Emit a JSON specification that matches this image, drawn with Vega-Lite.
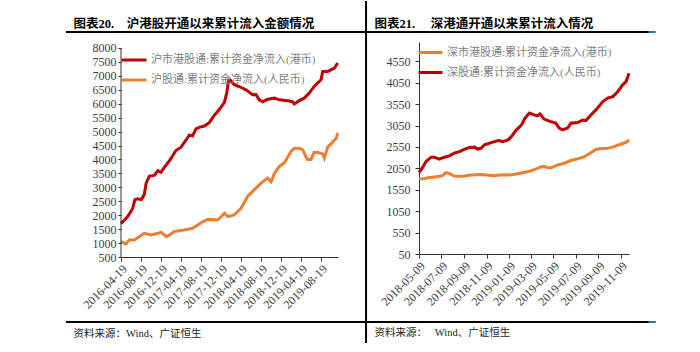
{
  "$schema": "https://vega.github.io/schema/vega-lite/v6.json",
  "autosize": {"type": "pad"},
  "padding": {"left": 64, "top": 0, "right": 0, "bottom": 0},
  "background": "white",
  "config": {"view": {"stroke": null}, "font": "Liberation Serif, Noto Sans CJK SC"},
  "bounds": "flush",
  "spacing": 81,
  "resolve": {"scale": {"x": "independent", "y": "independent", "color": "independent"}, "legend": {"color": "independent"}},
  "datasets": {
    "left": [
      {"date": "2016-04-19", "series": "沪市港股通:累计资金净流入(港币)", "value": 1700},
      {"date": "2016-05-09", "series": "沪市港股通:累计资金净流入(港币)", "value": 1820},
      {"date": "2016-05-29", "series": "沪市港股通:累计资金净流入(港币)", "value": 1950},
      {"date": "2016-06-15", "series": "沪市港股通:累计资金净流入(港币)", "value": 2100},
      {"date": "2016-06-29", "series": "沪市港股通:累计资金净流入(港币)", "value": 2250},
      {"date": "2016-07-13", "series": "沪市港股通:累计资金净流入(港币)", "value": 2560},
      {"date": "2016-07-29", "series": "沪市港股通:累计资金净流入(港币)", "value": 2590},
      {"date": "2016-08-19", "series": "沪市港股通:累计资金净流入(港币)", "value": 2560},
      {"date": "2016-08-29", "series": "沪市港股通:累计资金净流入(港币)", "value": 2640},
      {"date": "2016-09-08", "series": "沪市港股通:累计资金净流入(港币)", "value": 2750},
      {"date": "2016-09-19", "series": "沪市港股通:累计资金净流入(港币)", "value": 3150},
      {"date": "2016-10-09", "series": "沪市港股通:累计资金净流入(港币)", "value": 3400},
      {"date": "2016-10-29", "series": "沪市港股通:累计资金净流入(港币)", "value": 3420},
      {"date": "2016-11-08", "series": "沪市港股通:累计资金净流入(港币)", "value": 3430},
      {"date": "2016-11-29", "series": "沪市港股通:累计资金净流入(港币)", "value": 3600},
      {"date": "2016-12-19", "series": "沪市港股通:累计资金净流入(港币)", "value": 3540},
      {"date": "2017-01-08", "series": "沪市港股通:累计资金净流入(港币)", "value": 3720},
      {"date": "2017-02-08", "series": "沪市港股通:累计资金净流入(港币)", "value": 3960},
      {"date": "2017-02-28", "series": "沪市港股通:累计资金净流入(港币)", "value": 4140},
      {"date": "2017-03-19", "series": "沪市港股通:累计资金净流入(港币)", "value": 4320},
      {"date": "2017-04-19", "series": "沪市港股通:累计资金净流入(港币)", "value": 4440},
      {"date": "2017-05-19", "series": "沪市港股通:累计资金净流入(港币)", "value": 4690},
      {"date": "2017-06-08", "series": "沪市港股通:累计资金净流入(港币)", "value": 4870},
      {"date": "2017-06-29", "series": "沪市港股通:累计资金净流入(港币)", "value": 4850},
      {"date": "2017-07-19", "series": "沪市港股通:累计资金净流入(港币)", "value": 5100},
      {"date": "2017-08-08", "series": "沪市港股通:累计资金净流入(港币)", "value": 5150},
      {"date": "2017-09-08", "series": "沪市港股通:累计资金净流入(港币)", "value": 5200},
      {"date": "2017-10-08", "series": "沪市港股通:累计资金净流入(港币)", "value": 5320},
      {"date": "2017-11-08", "series": "沪市港股通:累计资金净流入(港币)", "value": 5590},
      {"date": "2017-12-08", "series": "沪市港股通:累计资金净流入(港币)", "value": 5790},
      {"date": "2018-01-08", "series": "沪市港股通:累计资金净流入(港币)", "value": 6050},
      {"date": "2018-01-23", "series": "沪市港股通:累计资金净流入(港币)", "value": 6410},
      {"date": "2018-02-02", "series": "沪市港股通:累计资金净流入(港币)", "value": 6850},
      {"date": "2018-02-12", "series": "沪市港股通:累计资金净流入(港币)", "value": 6850},
      {"date": "2018-03-09", "series": "沪市港股通:累计资金净流入(港币)", "value": 6680},
      {"date": "2018-04-19", "series": "沪市港股通:累计资金净流入(港币)", "value": 6590},
      {"date": "2018-05-19", "series": "沪市港股通:累计资金净流入(港币)", "value": 6500},
      {"date": "2018-06-29", "series": "沪市港股通:累计资金净流入(港币)", "value": 6320},
      {"date": "2018-07-19", "series": "沪市港股通:累计资金净流入(港币)", "value": 6330},
      {"date": "2018-08-08", "series": "沪市港股通:累计资金净流入(港币)", "value": 6140},
      {"date": "2018-08-29", "series": "沪市港股通:累计资金净流入(港币)", "value": 6070},
      {"date": "2018-09-29", "series": "沪市港股通:累计资金净流入(港币)", "value": 6160},
      {"date": "2018-11-08", "series": "沪市港股通:累计资金净流入(港币)", "value": 6200},
      {"date": "2018-12-08", "series": "沪市港股通:累计资金净流入(港币)", "value": 6140},
      {"date": "2019-01-29", "series": "沪市港股通:累计资金净流入(港币)", "value": 6110},
      {"date": "2019-02-28", "series": "沪市港股通:累计资金净流入(港币)", "value": 6070},
      {"date": "2019-03-09", "series": "沪市港股通:累计资金净流入(港币)", "value": 5990},
      {"date": "2019-04-08", "series": "沪市港股通:累计资金净流入(港币)", "value": 6110},
      {"date": "2019-05-08", "series": "沪市港股通:累计资金净流入(港币)", "value": 6200},
      {"date": "2019-06-08", "series": "沪市港股通:累计资金净流入(港币)", "value": 6380},
      {"date": "2019-07-08", "series": "沪市港股通:累计资金净流入(港币)", "value": 6620},
      {"date": "2019-08-19", "series": "沪市港股通:累计资金净流入(港币)", "value": 6860},
      {"date": "2019-08-29", "series": "沪市港股通:累计资金净流入(港币)", "value": 7160},
      {"date": "2019-09-29", "series": "沪市港股通:累计资金净流入(港币)", "value": 7160},
      {"date": "2019-11-08", "series": "沪市港股通:累计资金净流入(港币)", "value": 7280},
      {"date": "2019-11-28", "series": "沪市港股通:累计资金净流入(港币)", "value": 7460},
      {"date": "2016-04-19", "series": "沪股通:累计资金净流入(人民币)", "value": 1050},
      {"date": "2016-05-19", "series": "沪股通:累计资金净流入(人民币)", "value": 970},
      {"date": "2016-06-08", "series": "沪股通:累计资金净流入(人民币)", "value": 1110},
      {"date": "2016-07-09", "series": "沪股通:累计资金净流入(人民币)", "value": 1110},
      {"date": "2016-08-08", "series": "沪股通:累计资金净流入(人民币)", "value": 1230},
      {"date": "2016-09-08", "series": "沪股通:累计资金净流入(人民币)", "value": 1350},
      {"date": "2016-10-19", "series": "沪股通:累计资金净流入(人民币)", "value": 1290},
      {"date": "2016-11-29", "series": "沪股通:累计资金净流入(人民币)", "value": 1350},
      {"date": "2016-12-19", "series": "沪股通:累计资金净流入(人民币)", "value": 1390},
      {"date": "2017-01-19", "series": "沪股通:累计资金净流入(人民币)", "value": 1230},
      {"date": "2017-02-08", "series": "沪股通:累计资金净流入(人民币)", "value": 1290},
      {"date": "2017-03-08", "series": "沪股通:累计资金净流入(人民币)", "value": 1410},
      {"date": "2017-05-08", "series": "沪股通:累计资金净流入(人民币)", "value": 1470},
      {"date": "2017-06-29", "series": "沪股通:累计资金净流入(人民币)", "value": 1530},
      {"date": "2017-08-19", "series": "沪股通:累计资金净流入(人民币)", "value": 1730},
      {"date": "2017-09-29", "series": "沪股通:累计资金净流入(人民币)", "value": 1850},
      {"date": "2017-11-29", "series": "沪股通:累计资金净流入(人民币)", "value": 1830},
      {"date": "2018-01-08", "series": "沪股通:累计资金净流入(人民币)", "value": 2070},
      {"date": "2018-01-29", "series": "沪股通:累计资金净流入(人民币)", "value": 1950},
      {"date": "2018-03-09", "series": "沪股通:累计资金净流入(人民币)", "value": 2010},
      {"date": "2018-04-19", "series": "沪股通:累计资金净流入(人民币)", "value": 2250},
      {"date": "2018-05-29", "series": "沪股通:累计资金净流入(人民币)", "value": 2670},
      {"date": "2018-07-08", "series": "沪股通:累计资金净流入(人民币)", "value": 2910},
      {"date": "2018-08-19", "series": "沪股通:累计资金净流入(人民币)", "value": 3150},
      {"date": "2018-09-29", "series": "沪股通:累计资金净流入(人民币)", "value": 3330},
      {"date": "2018-10-19", "series": "沪股通:累计资金净流入(人民币)", "value": 3200},
      {"date": "2018-11-08", "series": "沪股通:累计资金净流入(人民币)", "value": 3500},
      {"date": "2018-12-08", "series": "沪股通:累计资金净流入(人民币)", "value": 3750},
      {"date": "2019-01-08", "series": "沪股通:累计资金净流入(人民币)", "value": 3880},
      {"date": "2019-01-29", "series": "沪股通:累计资金净流入(人民币)", "value": 4100},
      {"date": "2019-02-19", "series": "沪股通:累计资金净流入(人民币)", "value": 4300},
      {"date": "2019-03-09", "series": "沪股通:累计资金净流入(人民币)", "value": 4400},
      {"date": "2019-04-08", "series": "沪股通:累计资金净流入(人民币)", "value": 4400},
      {"date": "2019-04-29", "series": "沪股通:累计资金净流入(人民币)", "value": 4350},
      {"date": "2019-05-19", "series": "沪股通:累计资金净流入(人民币)", "value": 4100},
      {"date": "2019-05-29", "series": "沪股通:累计资金净流入(人民币)", "value": 4000},
      {"date": "2019-06-19", "series": "沪股通:累计资金净流入(人民币)", "value": 4000},
      {"date": "2019-07-08", "series": "沪股通:累计资金净流入(人民币)", "value": 4260},
      {"date": "2019-08-01", "series": "沪股通:累计资金净流入(人民币)", "value": 4250},
      {"date": "2019-08-29", "series": "沪股通:累计资金净流入(人民币)", "value": 4200},
      {"date": "2019-09-08", "series": "沪股通:累计资金净流入(人民币)", "value": 4050},
      {"date": "2019-09-29", "series": "沪股通:累计资金净流入(人民币)", "value": 4450},
      {"date": "2019-10-19", "series": "沪股通:累计资金净流入(人民币)", "value": 4560},
      {"date": "2019-11-08", "series": "沪股通:累计资金净流入(人民币)", "value": 4700},
      {"date": "2019-11-19", "series": "沪股通:累计资金净流入(人民币)", "value": 4760},
      {"date": "2019-11-28", "series": "沪股通:累计资金净流入(人民币)", "value": 4950}
    ],
    "right": [
      {"date": "2018-05-09", "series": "深市港股通:累计资金净流入(港币)", "value": 1810},
      {"date": "2018-05-20", "series": "深市港股通:累计资金净流入(港币)", "value": 1800},
      {"date": "2018-06-02", "series": "深市港股通:累计资金净流入(港币)", "value": 1830},
      {"date": "2018-06-15", "series": "深市港股通:累计资金净流入(港币)", "value": 1840},
      {"date": "2018-06-29", "series": "深市港股通:累计资金净流入(港币)", "value": 1860},
      {"date": "2018-07-12", "series": "深市港股通:累计资金净流入(港币)", "value": 1880},
      {"date": "2018-07-21", "series": "深市港股通:累计资金净流入(港币)", "value": 1950},
      {"date": "2018-07-30", "series": "深市港股通:累计资金净流入(港币)", "value": 1930},
      {"date": "2018-08-13", "series": "深市港股通:累计资金净流入(港币)", "value": 1870},
      {"date": "2018-08-27", "series": "深市港股通:累计资金净流入(港币)", "value": 1865},
      {"date": "2018-09-10", "series": "深市港股通:累计资金净流入(港币)", "value": 1870},
      {"date": "2018-09-28", "series": "深市港股通:累计资金净流入(港币)", "value": 1895},
      {"date": "2018-10-25", "series": "深市港股通:累计资金净流入(港币)", "value": 1905},
      {"date": "2018-11-15", "series": "深市港股通:累计资金净流入(港币)", "value": 1890},
      {"date": "2018-11-30", "series": "深市港股通:累计资金净流入(港币)", "value": 1880},
      {"date": "2018-12-14", "series": "深市港股通:累计资金净流入(港币)", "value": 1895},
      {"date": "2018-12-28", "series": "深市港股通:累计资金净流入(港币)", "value": 1900},
      {"date": "2019-01-10", "series": "深市港股通:累计资金净流入(港币)", "value": 1895},
      {"date": "2019-01-24", "series": "深市港股通:累计资金净流入(港币)", "value": 1910},
      {"date": "2019-02-08", "series": "深市港股通:累计资金净流入(港币)", "value": 1935},
      {"date": "2019-02-21", "series": "深市港股通:累计资金净流入(港币)", "value": 1960},
      {"date": "2019-03-05", "series": "深市港股通:累计资金净流入(港币)", "value": 1980},
      {"date": "2019-03-18", "series": "深市港股通:累计资金净流入(港币)", "value": 2020},
      {"date": "2019-03-27", "series": "深市港股通:累计资金净流入(港币)", "value": 2050},
      {"date": "2019-04-06", "series": "深市港股通:累计资金净流入(港币)", "value": 2085},
      {"date": "2019-04-14", "series": "深市港股通:累计资金净流入(港币)", "value": 2092},
      {"date": "2019-04-24", "series": "深市港股通:累计资金净流入(港币)", "value": 2070},
      {"date": "2019-05-02", "series": "深市港股通:累计资金净流入(港币)", "value": 2060},
      {"date": "2019-05-20", "series": "深市港股通:累计资金净流入(港币)", "value": 2125},
      {"date": "2019-06-08", "series": "深市港股通:累计资金净流入(港币)", "value": 2170},
      {"date": "2019-06-26", "series": "深市港股通:累计资金净流入(港币)", "value": 2232},
      {"date": "2019-07-14", "series": "深市港股通:累计资金净流入(港币)", "value": 2272},
      {"date": "2019-08-02", "series": "深市港股通:累计资金净流入(港币)", "value": 2325},
      {"date": "2019-08-20", "series": "深市港股通:累计资金净流入(港币)", "value": 2419},
      {"date": "2019-09-02", "series": "深市港股通:累计资金净流入(港币)", "value": 2490},
      {"date": "2019-09-16", "series": "深市港股通:累计资金净流入(港币)", "value": 2515},
      {"date": "2019-10-04", "series": "深市港股通:累计资金净流入(港币)", "value": 2520},
      {"date": "2019-10-18", "series": "深市港股通:累计资金净流入(港币)", "value": 2545},
      {"date": "2019-10-31", "series": "深市港股通:累计资金净流入(港币)", "value": 2590},
      {"date": "2019-11-14", "series": "深市港股通:累计资金净流入(港币)", "value": 2630},
      {"date": "2019-11-24", "series": "深市港股通:累计资金净流入(港币)", "value": 2660},
      {"date": "2019-12-01", "series": "深市港股通:累计资金净流入(港币)", "value": 2715},
      {"date": "2018-05-09", "series": "深股通:累计资金净流入(人民币)", "value": 1950},
      {"date": "2018-05-19", "series": "深股通:累计资金净流入(人民币)", "value": 2070},
      {"date": "2018-05-28", "series": "深股通:累计资金净流入(人民币)", "value": 2210},
      {"date": "2018-06-11", "series": "深股通:累计资金净流入(人民币)", "value": 2310},
      {"date": "2018-06-20", "series": "深股通:累计资金净流入(人民币)", "value": 2310},
      {"date": "2018-07-03", "series": "深股通:累计资金净流入(人民币)", "value": 2265},
      {"date": "2018-07-17", "series": "深股通:累计资金净流入(人民币)", "value": 2310},
      {"date": "2018-07-30", "series": "深股通:累计资金净流入(人民币)", "value": 2340},
      {"date": "2018-08-13", "series": "深股通:累计资金净流入(人民币)", "value": 2405},
      {"date": "2018-08-27", "series": "深股通:累计资金净流入(人民币)", "value": 2440},
      {"date": "2018-09-10", "series": "深股通:累计资金净流入(人民币)", "value": 2500},
      {"date": "2018-09-24", "series": "深股通:累计资金净流入(人民币)", "value": 2535},
      {"date": "2018-10-07", "series": "深股通:累计资金净流入(人民币)", "value": 2545},
      {"date": "2018-10-16", "series": "深股通:累计资金净流入(人民币)", "value": 2500},
      {"date": "2018-10-25", "series": "深股通:累计资金净流入(人民币)", "value": 2520},
      {"date": "2018-11-03", "series": "深股通:累计资金净流入(人民币)", "value": 2600},
      {"date": "2018-11-17", "series": "深股通:累计资金净流入(人民币)", "value": 2640},
      {"date": "2018-11-30", "series": "深股通:累计资金净流入(人民币)", "value": 2675},
      {"date": "2018-12-11", "series": "深股通:累计资金净流入(人民币)", "value": 2700},
      {"date": "2018-12-23", "series": "深股通:累计资金净流入(人民币)", "value": 2675},
      {"date": "2019-01-06", "series": "深股通:累计资金净流入(人民币)", "value": 2715},
      {"date": "2019-01-15", "series": "深股通:累计资金净流入(人民币)", "value": 2790},
      {"date": "2019-01-29", "series": "深股通:累计资金净流入(人民币)", "value": 2950},
      {"date": "2019-02-12", "series": "深股通:累计资金净流入(人民币)", "value": 3065},
      {"date": "2019-02-21", "series": "深股通:累计资金净流入(人民币)", "value": 3220},
      {"date": "2019-03-05", "series": "深股通:累计资金净流入(人民币)", "value": 3340},
      {"date": "2019-03-18", "series": "深股通:累计资金净流入(人民币)", "value": 3300},
      {"date": "2019-03-27", "series": "深股通:累计资金净流入(人民币)", "value": 3275},
      {"date": "2019-04-03", "series": "深股通:累计资金净流入(人民币)", "value": 3320},
      {"date": "2019-04-14", "series": "深股通:累计资金净流入(人民币)", "value": 3200},
      {"date": "2019-05-02", "series": "深股通:累计资金净流入(人民币)", "value": 3140},
      {"date": "2019-05-16", "series": "深股通:累计资金净流入(人民币)", "value": 3105},
      {"date": "2019-05-25", "series": "深股通:累计资金净流入(人民币)", "value": 2990},
      {"date": "2019-06-03", "series": "深股通:累计资金净流入(人民币)", "value": 2950},
      {"date": "2019-06-17", "series": "深股通:累计资金净流入(人民币)", "value": 2990},
      {"date": "2019-06-26", "series": "深股通:累计资金净流入(人民币)", "value": 3105},
      {"date": "2019-07-14", "series": "深股通:累计资金净流入(人民币)", "value": 3120},
      {"date": "2019-07-28", "series": "深股通:累计资金净流入(人民币)", "value": 3180},
      {"date": "2019-08-06", "series": "深股通:累计资金净流入(人民币)", "value": 3165},
      {"date": "2019-08-20", "series": "深股通:累计资金净流入(人民币)", "value": 3300},
      {"date": "2019-09-02", "series": "深股通:累计资金净流入(人民币)", "value": 3415},
      {"date": "2019-09-21", "series": "深股通:累计资金净流入(人民币)", "value": 3610},
      {"date": "2019-10-04", "series": "深股通:累计资金净流入(人民币)", "value": 3690},
      {"date": "2019-10-18", "series": "深股通:累计资金净流入(人民币)", "value": 3725},
      {"date": "2019-10-31", "series": "深股通:累计资金净流入(人民币)", "value": 3840},
      {"date": "2019-11-14", "series": "深股通:累计资金净流入(人民币)", "value": 4000},
      {"date": "2019-11-23", "series": "深股通:累计资金净流入(人民币)", "value": 4075},
      {"date": "2019-12-01", "series": "深股通:累计资金净流入(人民币)", "value": 4270}
    ]
  },
  "hconcat": [
    {
      "width": 217,
      "height": 215,
      "resolve": {"scale": {"x": "independent", "y": "independent"}, "axis": {"x": "independent", "y": "independent"}},
      "layer": [
        {
          "data": {"name": "left"},
          "mark": {"type": "line", "strokeWidth": 3},
          "encoding": {
            "x": {
              "field": "date", "type": "temporal",
              "scale": {"type": "utc", "nice": false, "domain": [{"year": 2016, "month": 4, "date": 19, "utc": true}, {"year": 2019, "month": 11, "date": 30, "utc": true}]},
              "axis": {
                "values": [
                  {"year": 2016, "month": 4, "date": 19, "utc": true}, {"year": 2016, "month": 8, "date": 19, "utc": true}, {"year": 2016, "month": 12, "date": 19, "utc": true},
                  {"year": 2017, "month": 4, "date": 19, "utc": true}, {"year": 2017, "month": 8, "date": 19, "utc": true}, {"year": 2017, "month": 12, "date": 19, "utc": true},
                  {"year": 2018, "month": 4, "date": 19, "utc": true}, {"year": 2018, "month": 8, "date": 19, "utc": true}, {"year": 2018, "month": 12, "date": 19, "utc": true},
                  {"year": 2019, "month": 4, "date": 19, "utc": true}, {"year": 2019, "month": 8, "date": 19, "utc": true}
                ],
                "labelExpr": "utcFormat(datum.value, '%Y-%m-%d')",
                "labelAngle": -45, "labelFont": "Liberation Serif", "labelFontSize": 12, "labelColor": "#404040",
                "labelOverlap": false, "labelFlush": false, "labelBound": false, "labelPadding": 2,
                "tickSize": 4, "tickColor": "#333333", "domainColor": "#333333", "grid": false,
                "title": "资料来源：Wind、广证恒生", "titleX": -48, "titleY": 76, "titleAngle": 0, "titleAlign": "left", "titleBaseline": "middle",
                "titleFont": "Liberation Serif, Noto Sans CJK SC", "titleFontSize": 10.5, "titleFontWeight": "normal", "titleColor": "#222222", "titleLimit": 0
              }
            },
            "y": {
              "field": "value", "type": "quantitative",
              "scale": {"domain": [500, 8215], "nice": false, "zero": false},
              "axis": {
                "values": [500, 1000, 1500, 2000, 2500, 3000, 3500, 4000, 4500, 5000, 5500, 6000, 6500, 7000, 7500, 8000],
                "format": "d",
                "domain": false,
                "labelFont": "Liberation Serif", "labelFontSize": 12, "labelColor": "#404040", "labelPadding": 2,
                "tickSize": 3, "tickColor": "#333333", "grid": false,
                "title": "图表20.\u00a0\u00a0\u00a0\u00a0沪港股开通以来累计流入金额情况", "titleX": -48, "titleY": -19, "titleAngle": 0, "titleAlign": "left", "titleBaseline": "middle",
                "titleFont": "Liberation Serif, Noto Sans CJK SC", "titleFontSize": 12.5, "titleFontWeight": "bold", "titleColor": "#000000", "titleLimit": 0
              }
            },
            "color": {
              "field": "series", "type": "nominal",
              "scale": {"domain": ["沪市港股通:累计资金净流入(港币)", "沪股通:累计资金净流入(人民币)"], "range": ["#C00000", "#ED7D31"]},
              "legend": {
                "orient": "none", "legendX": -1, "legendY": 4, "title": null, "padding": 0,
                "symbolType": "stroke", "symbolSize": 625, "symbolStrokeWidth": 3, "rowPadding": -1, "labelOffset": 3,
                "labelFont": "Liberation Serif, Noto Sans CJK SC", "labelFontSize": 11, "labelColor": "#808080", "labelLimit": 0
              }
            }
          }
        },
        {
          "data": {"values": [{}]},
          "mark": {"type": "rule", "color": "#333333", "strokeWidth": 1},
          "encoding": {
            "x": {"datum": {"year": 2016, "month": 4, "date": 19, "utc": true}, "type": "temporal", "axis": null, "scale": {"type": "utc", "nice": false, "domain": [{"year": 2016, "month": 4, "date": 19, "utc": true}, {"year": 2019, "month": 11, "date": 30, "utc": true}]}},
            "y": {"datum": 500, "type": "quantitative", "axis": null, "scale": {"domain": [500, 8215], "nice": false, "zero": false}},
            "y2": {"datum": 8000}
          }
        },
        {
          "data": {"values": [{}]},
          "mark": {"type": "rule", "color": "#000000", "strokeWidth": 2},
          "encoding": {
            "x": {"datum": {"year": 2015, "month": 5, "date": 20, "utc": true}, "type": "temporal", "axis": null, "scale": {"type": "utc", "nice": false, "domain": [{"year": 2016, "month": 4, "date": 19, "utc": true}, {"year": 2019, "month": 11, "date": 30, "utc": true}]}},
            "x2": {"datum": {"year": 2020, "month": 2, "date": 18, "utc": true}},
            "y": {"datum": 8574, "type": "quantitative", "axis": null, "scale": {"domain": [500, 8215], "nice": false, "zero": false}}
          }
        },
        {
          "data": {"values": [{}]},
          "mark": {"type": "rule", "color": "#000000", "strokeWidth": 2},
          "encoding": {
            "x": {"datum": {"year": 2015, "month": 5, "date": 20, "utc": true}, "type": "temporal", "axis": null, "scale": {"type": "utc", "nice": false, "domain": [{"year": 2016, "month": 4, "date": 19, "utc": true}, {"year": 2019, "month": 11, "date": 30, "utc": true}]}},
            "x2": {"datum": {"year": 2020, "month": 2, "date": 18, "utc": true}},
            "y": {"datum": -1833, "type": "quantitative", "axis": null, "scale": {"domain": [500, 8215], "nice": false, "zero": false}}
          }
        }
      ]
    },
    {
      "width": 210,
      "height": 212,
      "resolve": {"scale": {"x": "independent", "y": "independent"}, "axis": {"x": "independent", "y": "independent"}},
      "layer": [
        {
          "data": {"name": "right"},
          "mark": {"type": "line", "strokeWidth": 3},
          "encoding": {
            "x": {
              "field": "date", "type": "temporal",
              "scale": {"type": "utc", "nice": false, "domain": [{"year": 2018, "month": 5, "date": 9, "utc": true}, {"year": 2019, "month": 12, "date": 1, "utc": true}]},
              "axis": {
                "values": [
                  {"year": 2018, "month": 5, "date": 9, "utc": true}, {"year": 2018, "month": 7, "date": 9, "utc": true}, {"year": 2018, "month": 9, "date": 9, "utc": true},
                  {"year": 2018, "month": 11, "date": 9, "utc": true}, {"year": 2019, "month": 1, "date": 9, "utc": true}, {"year": 2019, "month": 3, "date": 9, "utc": true},
                  {"year": 2019, "month": 5, "date": 9, "utc": true}, {"year": 2019, "month": 7, "date": 9, "utc": true}, {"year": 2019, "month": 9, "date": 9, "utc": true},
                  {"year": 2019, "month": 11, "date": 9, "utc": true}
                ],
                "labelExpr": "utcFormat(datum.value, '%Y-%m-%d')",
                "labelAngle": -45, "labelFont": "Liberation Serif", "labelFontSize": 12, "labelColor": "#404040",
                "labelOverlap": false, "labelFlush": false, "labelBound": false, "labelPadding": 2,
                "tickSize": 4, "tickColor": "#333333", "domainColor": "#333333", "grid": false,
                "title": "资料来源：\u00a0\u00a0\u00a0Wind、广证恒生", "titleX": -45, "titleY": 78, "titleAngle": 0, "titleAlign": "left", "titleBaseline": "middle",
                "titleFont": "Liberation Serif, Noto Sans CJK SC", "titleFontSize": 10.5, "titleFontWeight": "normal", "titleColor": "#222222", "titleLimit": 0
              }
            },
            "y": {
              "field": "value", "type": "quantitative",
              "scale": {"domain": [50, 5000], "nice": false, "zero": false},
              "axis": {
                "values": [50, 550, 1050, 1550, 2050, 2550, 3050, 3550, 4050, 4550],
                "format": "d",
                "labelFont": "Liberation Serif", "labelFontSize": 12, "labelColor": "#404040", "labelPadding": 5,
                "tickSize": 4, "tickColor": "#333333", "domainColor": "#333333", "grid": false,
                "title": "图表21.\u00a0\u00a0\u00a0\u00a0\u00a0深港通开通以来累计流入情况", "titleX": -45, "titleY": -19, "titleAngle": 0, "titleAlign": "left", "titleBaseline": "middle",
                "titleFont": "Liberation Serif, Noto Sans CJK SC", "titleFontSize": 12.5, "titleFontWeight": "bold", "titleColor": "#000000", "titleLimit": 0
              }
            },
            "color": {
              "field": "series", "type": "nominal",
              "scale": {"domain": ["深市港股通:累计资金净流入(港币)", "深股通:累计资金净流入(人民币)"], "range": ["#ED7D31", "#C00000"]},
              "legend": {
                "orient": "none", "legendX": -2, "legendY": -3, "title": null, "padding": 0,
                "symbolType": "stroke", "symbolSize": 576, "symbolStrokeWidth": 3, "rowPadding": -1, "labelOffset": 3,
                "labelFont": "Liberation Serif, Noto Sans CJK SC", "labelFontSize": 11, "labelColor": "#808080", "labelLimit": 0
              }
            }
          }
        },
        {
          "data": {"values": [{}]},
          "mark": {"type": "rule", "color": "#000000", "strokeWidth": 2},
          "encoding": {
            "x": {"datum": {"year": 2017, "month": 12, "date": 16, "utc": true}, "type": "temporal", "axis": null, "scale": {"type": "utc", "nice": false, "domain": [{"year": 2018, "month": 5, "date": 9, "utc": true}, {"year": 2019, "month": 12, "date": 1, "utc": true}]}},
            "y": {"datum": 5957, "type": "quantitative", "axis": null, "scale": {"domain": [50, 5000], "nice": false, "zero": false}},
            "y2": {"datum": -2028}
          }
        },
        {
          "data": {"values": [{}]},
          "mark": {"type": "rule", "color": "#000000", "strokeWidth": 2},
          "encoding": {
            "x": {"datum": {"year": 2017, "month": 11, "date": 5, "utc": true}, "type": "temporal", "axis": null, "scale": {"type": "utc", "nice": false, "domain": [{"year": 2018, "month": 5, "date": 9, "utc": true}, {"year": 2019, "month": 12, "date": 1, "utc": true}]}},
            "x2": {"datum": {"year": 2020, "month": 1, "date": 24, "utc": true}},
            "y": {"datum": 5234, "type": "quantitative", "axis": null, "scale": {"domain": [50, 5000], "nice": false, "zero": false}}
          }
        },
        {
          "data": {"values": [{}]},
          "mark": {"type": "rule", "color": "#000000", "strokeWidth": 2},
          "encoding": {
            "x": {"datum": {"year": 2017, "month": 11, "date": 5, "utc": true}, "type": "temporal", "axis": null, "scale": {"type": "utc", "nice": false, "domain": [{"year": 2018, "month": 5, "date": 9, "utc": true}, {"year": 2019, "month": 12, "date": 1, "utc": true}]}},
            "x2": {"datum": {"year": 2020, "month": 1, "date": 24, "utc": true}},
            "y": {"datum": -1538, "type": "quantitative", "axis": null, "scale": {"domain": [50, 5000], "nice": false, "zero": false}}
          }
        },
        {
          "data": {"values": [{}]},
          "mark": {"type": "rule", "color": "#2E75B6", "strokeWidth": 2},
          "encoding": {
            "x": {"datum": {"year": 2020, "month": 1, "date": 24, "utc": true}, "type": "temporal", "axis": null, "scale": {"type": "utc", "nice": false, "domain": [{"year": 2018, "month": 5, "date": 9, "utc": true}, {"year": 2019, "month": 12, "date": 1, "utc": true}]}},
            "x2": {"datum": {"year": 2020, "month": 2, "date": 12, "utc": true}},
            "y": {"datum": 5234, "type": "quantitative", "axis": null, "scale": {"domain": [50, 5000], "nice": false, "zero": false}}
          }
        },
        {
          "data": {"values": [{}]},
          "mark": {"type": "rule", "color": "#2E75B6", "strokeWidth": 2},
          "encoding": {
            "x": {"datum": {"year": 2020, "month": 1, "date": 24, "utc": true}, "type": "temporal", "axis": null, "scale": {"type": "utc", "nice": false, "domain": [{"year": 2018, "month": 5, "date": 9, "utc": true}, {"year": 2019, "month": 12, "date": 1, "utc": true}]}},
            "x2": {"datum": {"year": 2020, "month": 2, "date": 12, "utc": true}},
            "y": {"datum": -1538, "type": "quantitative", "axis": null, "scale": {"domain": [50, 5000], "nice": false, "zero": false}}
          }
        }
      ]
    }
  ]
}
